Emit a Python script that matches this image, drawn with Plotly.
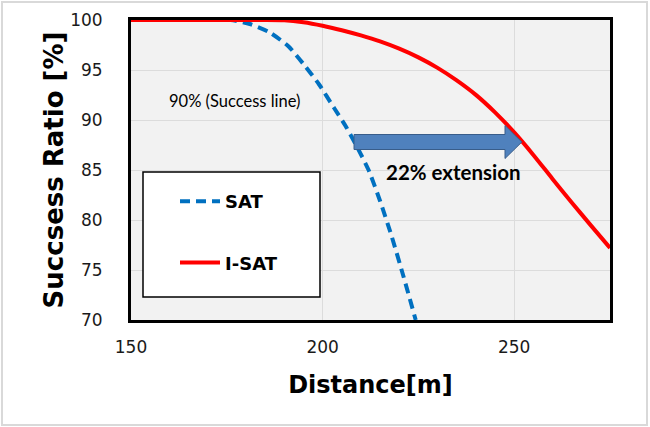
import plotly.graph_objects as go

# ---- data ----
sat_x = [150, 170, 176, 181, 186, 191, 195, 199, 203, 206, 209, 212, 215, 218, 221, 224.3]
sat_y = [100, 100, 100, 99.6, 98.8, 97.4, 95.6, 93.6, 91.2, 89.4, 87.3, 85.0, 81.9, 78.4, 74.5, 70]

isat_x = [150, 180, 190, 195, 200, 205, 210, 215, 220, 225, 230, 235, 240, 245, 250, 255, 260, 265, 270, 275]
isat_y = [100, 100, 99.98, 99.78, 99.43, 98.98, 98.46, 97.86, 97.13, 96.26, 95.21, 93.96, 92.51, 90.76, 88.76, 86.51, 84.11, 81.76, 79.46, 77.21]

x_ticks = [150, 200, 250]
y_ticks = [70, 75, 80, 85, 90, 95, 100]

# extension arrow (from SAT to I-SAT)
arrow_y = 87.8
arrow_x0 = 208.2
arrow_head_x = 247.6
arrow_x1 = 252.0
arrow_body_half = 0.75
arrow_head_half = 1.65

TICK_FONT = "DejaVu Sans"
TEXT_FONT = "Lato"

fig = go.Figure()
fig.add_trace(go.Scatter(
    x=sat_x, y=sat_y, mode="lines", name="SAT",
    line=dict(color="#0070C0", width=4, dash="10px,6px", shape="spline", smoothing=0.6),
    legendgroup="a",
))
fig.add_trace(go.Scatter(
    x=isat_x, y=isat_y, mode="lines", name="I-SAT",
    line=dict(color="#FF0000", width=4, shape="spline", smoothing=0.8),
    legendgroup="b",
))

# block arrow
path = (f"M {arrow_x0},{arrow_y + arrow_body_half} "
        f"L {arrow_head_x},{arrow_y + arrow_body_half} "
        f"L {arrow_head_x},{arrow_y + arrow_head_half} "
        f"L {arrow_x1},{arrow_y} "
        f"L {arrow_head_x},{arrow_y - arrow_head_half} "
        f"L {arrow_head_x},{arrow_y - arrow_body_half} "
        f"L {arrow_x0},{arrow_y - arrow_body_half} Z")

shapes = [
    dict(type="path", path=path, xref="x", yref="y",
         fillcolor="#4F81BD", line=dict(color="#385D8A", width=1), layer="above"),
    # legend box
    dict(type="rect", xref="paper", yref="paper",
         x0=(143 - 131) / 479, x1=(320 - 131) / 479,
         y0=(320 - 297) / 300, y1=(320 - 172) / 300,
         fillcolor="white", line=dict(color="black", width=1.5), layer="above"),
    # outer image border
    dict(type="rect", xref="paper", yref="paper",
         x0=(2 - 131) / 479, x1=(647 - 131) / 479,
         y0=(320 - 425) / 300, y1=(320 - 2) / 300,
         fillcolor="rgba(0,0,0,0)", line=dict(color="#D9D9D9", width=2), layer="above"),
]

annotations = [
    dict(x=177.1, y=91.9, xref="x", yref="y", text="90% (Success line)", showarrow=False,
         font=dict(family=TEXT_FONT, size=16.5, color="black")),
    dict(x=234.2, y=84.8, xref="x", yref="y", text="<b>22% extension</b>", showarrow=False,
         font=dict(family=TEXT_FONT, size=20.5, color="black")),
]

fig.update_layout(
    width=650, height=427,
    margin=dict(l=131, r=40, t=20, b=107),
    paper_bgcolor="white",
    plot_bgcolor="#F2F2F2",
    shapes=shapes,
    annotations=annotations,
    showlegend=True,
    legend=dict(
        x=(175 - 131) / 479, y=(320 - 183) / 300, xanchor="left", yanchor="top",
        bgcolor="rgba(0,0,0,0)", borderwidth=0,
        font=dict(family=TICK_FONT, size=18, color="black", weight="bold"),
        tracegroupgap=35, itemwidth=40,
    ),
    xaxis=dict(
        range=[150, 275], tickvals=x_ticks, showgrid=True, gridcolor="#DCDCDC", gridwidth=1,
        showline=True, linecolor="black", linewidth=3, mirror=True, zeroline=False,
        ticks="", ticklabelstandoff=10, automargin=False,
        tickfont=dict(family=TICK_FONT, size=17, color="#1a1a1a"),
        title=dict(text="<b>Distance[m]</b>", standoff=20,
                   font=dict(family=TICK_FONT, size=24, color="black")),
    ),
    yaxis=dict(
        range=[70, 100], tickvals=y_ticks, showgrid=True, gridcolor="#DCDCDC", gridwidth=1,
        showline=True, linecolor="black", linewidth=3, mirror=True, zeroline=False,
        ticks="", ticklabelstandoff=22, automargin=False,
        tickfont=dict(family=TICK_FONT, size=17, color="#1a1a1a"),
        title=dict(text="<b>Succsess Ratio [%]</b>", standoff=0,
                   font=dict(family=TICK_FONT, size=26, color="black")),
    ),
)

fig.write_html("out.html", config={"displayModeBar": False},
               post_script="document.body.style.margin='0px';")
